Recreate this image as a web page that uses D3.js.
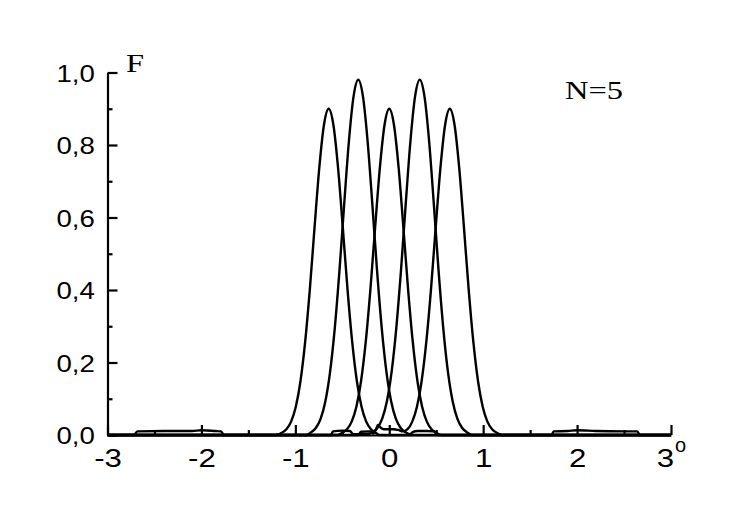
<!DOCTYPE html>
<html>
<head>
<meta charset="utf-8">
<script src="https://cdn.jsdelivr.net/npm/d3@7"></script>
<style>
  body { margin: 0; background: #fff; }
  svg { display: block; }
  .tick text { font-family: "Liberation Sans", Arial, sans-serif; fill: #000; }
</style>
</head>
<body>
<div id="chart"></div>
<script>
// tick values and their labels (comma decimal like the original)
var yTicks = [0, 0.2, 0.4, 0.6, 0.8, 1.0],
    yTickLabels = ["0,0", "0,2", "0,4", "0,6", "0,8", "1,0"],
    yMinor = [0.1, 0.3, 0.5, 0.7, 0.9],
    xTicks = [-3, -2, -1, 0, 1, 2, 3],
    xTickLabels = ["-3", "-2", "-1", "0", "1", "2", "3"],
    xMinor = [-2.5, -1.5, -0.5, 0.5, 1.5, 2.5];

// five beams, [angle, F]
var beam1 = [[-3, 0], [-2.72, 0], [-2.68, 0.010], [-2.4, 0.011], [-2.1, 0.011], [-2.0, 0.013], [-1.85, 0.011], [-1.79, 0.010], [-1.76, 0],
  [-1.2, 0], [-1.145, 0.006], [-1.095, 0.016], [-1.045, 0.037], [-0.995, 0.078], [-0.945, 0.149], [-0.895, 0.258],
  [-0.845, 0.404], [-0.795, 0.574], [-0.745, 0.737], [-0.695, 0.856], [-0.645, 0.900], [-0.595, 0.856], [-0.545, 0.737],
  [-0.495, 0.574], [-0.445, 0.404], [-0.395, 0.258], [-0.345, 0.149], [-0.295, 0.078], [-0.245, 0.037], [-0.195, 0.016],
  [-0.145, 0.006], [-0.1, 0], [3, 0]];
var beam2 = [[-3, 0], [-0.88, 0], [-0.83, 0.008], [-0.78, 0.020], [-0.73, 0.045], [-0.68, 0.093], [-0.63, 0.174], [-0.58, 0.295],
  [-0.53, 0.454], [-0.48, 0.636], [-0.43, 0.809], [-0.38, 0.934], [-0.33, 0.980], [-0.28, 0.934], [-0.23, 0.809],
  [-0.18, 0.636], [-0.13, 0.454], [-0.08, 0.295], [-0.03, 0.174], [0.02, 0.093], [0.07, 0.045], [0.12, 0.020],
  [0.17, 0.008], [0.22, 0.002], [0.25, 0.008], [0.3, 0.011], [0.4, 0.011], [0.48, 0.010], [0.51, 0], [3, 0]];
var beam3 = [[-3, 0], [-0.55, 0], [-0.5, 0.006], [-0.45, 0.016], [-0.40, 0.037], [-0.35, 0.078], [-0.30, 0.149], [-0.25, 0.258],
  [-0.20, 0.404], [-0.15, 0.574], [-0.10, 0.737], [-0.05, 0.856], [0, 0.900], [0.05, 0.856], [0.10, 0.737],
  [0.15, 0.574], [0.20, 0.404], [0.25, 0.258], [0.30, 0.149], [0.35, 0.078], [0.40, 0.037], [0.45, 0.016],
  [0.50, 0.006], [0.55, 0], [3, 0]];
var beam4 = [[-3, 0], [-0.62, 0], [-0.6, 0.010], [-0.5, 0.012], [-0.42, 0.011], [-0.38, 0.002], [-0.225, 0.002], [-0.175, 0.008],
  [-0.125, 0.020], [-0.075, 0.045], [-0.025, 0.093], [0.025, 0.174], [0.075, 0.295], [0.125, 0.454], [0.175, 0.636],
  [0.225, 0.809], [0.275, 0.934], [0.325, 0.980], [0.375, 0.934], [0.425, 0.809], [0.475, 0.636], [0.525, 0.454],
  [0.575, 0.295], [0.625, 0.174], [0.675, 0.093], [0.725, 0.045], [0.775, 0.020], [0.825, 0.008], [0.88, 0], [3, 0]];
var beam5 = [[-3, 0], [-0.33, 0], [-0.3, 0.009], [-0.2, 0.010], [-0.17, 0.004], [-0.14, 0.016], [-0.12, 0.028], [-0.09, 0.020],
  [-0.06, 0.016], [0.05, 0.016], [0.095, 0.014], [0.145, 0.010], [0.195, 0.016], [0.245, 0.037], [0.295, 0.078],
  [0.345, 0.149], [0.395, 0.258], [0.445, 0.404], [0.495, 0.574], [0.545, 0.737], [0.595, 0.856], [0.645, 0.900],
  [0.695, 0.856], [0.745, 0.737], [0.795, 0.574], [0.845, 0.404], [0.895, 0.258], [0.945, 0.149], [0.995, 0.078],
  [1.045, 0.037], [1.095, 0.016], [1.145, 0.006], [1.2, 0], [1.73, 0], [1.75, 0.010], [1.9, 0.011], [2.0, 0.013],
  [2.2, 0.011], [2.5, 0.010], [2.64, 0.010], [2.67, 0], [3, 0]];
var beams = [beam1, beam2, beam3, beam4, beam5];

var width = 740, height = 515;
var svg = d3.select("#chart").append("svg").attr("width", width).attr("height", height);

var x = d3.scaleLinear().domain([-3, 3]).range([107.5, 671]),
    y = d3.scaleLinear().domain([0, 1]).range([435, 72.5]);

//curves first so the axes sit on top
var line = d3.line().x(function(d){return x(d[0]);}).y(function(d){return y(d[1]);}).curve(d3.curveMonotoneX);
svg.selectAll("path.beam").data(beams).enter().append("path")
  .attr("class", "beam")
  .attr("d", line)
  .attr("fill", "none")
  .attr("stroke", "#000")
  .attr("stroke-width", 2.4)
  .attr("stroke-linejoin", "round");

//minor ticks
svg.append("g").attr("transform", "translate(0,435)")
  .call(d3.axisBottom(x).tickValues(xMinor).tickSize(-5).tickSizeOuter(0).tickFormat(""))
  .call(function(g){ g.select(".domain").remove(); });
svg.append("g").attr("transform", "translate(107.5,0)")
  .call(d3.axisLeft(y).tickValues(yMinor).tickSize(-5).tickSizeOuter(0).tickFormat(""))
  .call(function(g){ g.select(".domain").remove(); });

//major axes
var xAxis = svg.append("g").attr("transform", "translate(0,435)")
  .call(d3.axisBottom(x).tickValues(xTicks).tickSize(-10).tickSizeOuter(0).tickPadding(13)
    .tickFormat(function(d,i){ return xTickLabels[i]; }));
var yAxis = svg.append("g").attr("transform", "translate(107.5,0)")
  .call(d3.axisLeft(y).tickValues(yTicks).tickSize(-10).tickSizeOuter(0).tickPadding(11)
    .tickFormat(function(d,i){ return yTickLabels[i]; }));

svg.selectAll(".domain, .tick line").attr("stroke", "#000").attr("stroke-width", 2.2);
// the original lettering is wider than Liberation Sans, stretch it a bit
xAxis.selectAll(".tick text").style("font-size", "26px").attr("dy", "0.72em").attr("transform", "scale(1.2,1)");
xAxis.selectAll(".tick text").filter(function(d){ return d === 3; }).attr("dx", "-5");
yAxis.selectAll(".tick text").style("font-size", "24px").attr("dy", "0.36em").attr("transform", "scale(1.15,1)");

//labels
svg.append("text").attr("transform", "translate(126,72) scale(1.25,1)")
  .style("font-family", "'Liberation Serif', 'Times New Roman', serif").style("font-size", "26px")
  .text("F");
svg.append("text").attr("transform", "translate(565,99) scale(1.25,1)")
  .style("font-family", "'Liberation Serif', 'Times New Roman', serif").style("font-size", "26px")
  .text("N=5");
svg.append("text").attr("x", 675).attr("y", 452)
  .style("font-family", "'Liberation Sans', Arial, sans-serif").style("font-size", "20px")
  .text("o");
</script>
</body>
</html>
